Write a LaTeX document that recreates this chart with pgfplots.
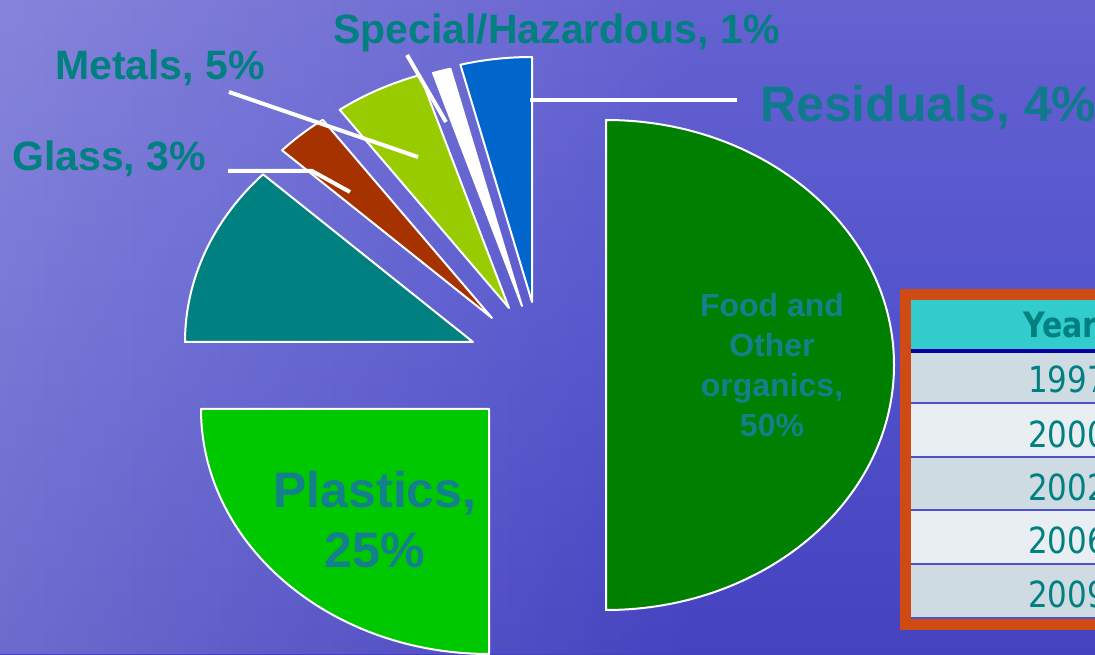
\documentclass[border=0pt]{standalone}
\usepackage{pgfplots}
\pgfplotsset{compat=1.18}
\usepackage{pgfplotstable}
\usepackage{fontspec}
\setmainfont{Liberation Sans}
\newfontfamily\tahoma[FakeStretch=0.86]{DejaVu Sans}
\usetikzlibrary{fadings}

\definecolor{resblue}{RGB}{0,102,204}
\definecolor{metgreen}{RGB}{153,204,0}
\definecolor{glassbrown}{RGB}{166,50,0}
\definecolor{paperteal}{RGB}{0,128,128}
\definecolor{plasgreen}{RGB}{0,200,0}
\definecolor{foodgreen}{RGB}{0,128,0}
\definecolor{labteal}{RGB}{0,128,128}
\definecolor{intext}{RGB}{20,128,140}
\definecolor{frame}{RGB}{208,74,20}
\definecolor{hdr}{RGB}{50,204,204}
\definecolor{hdrline}{RGB}{0,0,160}
\definecolor{rowa}{RGB}{207,219,226}
\definecolor{rowb}{RGB}{232,238,242}
\definecolor{rowline}{RGB}{80,80,200}
\definecolor{sea0}{RGB}{55,50,180}
\definecolor{sea1}{RGB}{85,85,205}
\definecolor{sea2}{RGB}{110,105,210}
\definecolor{sea3}{RGB}{165,160,225}
\definecolor{sea4}{RGB}{140,130,210}

\pgfdeclareverticalshading{sea}{100bp}{color(0bp)=(sea0); color(54bp)=(sea1); color(87bp)=(sea2); color(91.5bp)=(sea3); color(100bp)=(sea4)}
\tikzfading[name=fadeleft, left color=transparent!78, right color=transparent!100]

% pie slice drawn as a mark at its (exploded) apex; angles come from the table
\pgfdeclareplotmark{wedge}{%
  \pgfpathmoveto{\pgfpointorigin}%
  \pgfpathlineto{\pgfpoint{288pt*cos(\angA)}{245pt*sin(\angA)}}%
  \pgfpatharc{\angA}{\angB}{288pt and 245pt}%
  \pgfpathclose
  \pgfusepathqfillstroke
}

% pct, cumulative start (counter-clockwise from 12 o'clock), apex position in px
\pgfplotstableread{
name       pct cum  x    y    cls
Residuals   4   0   532  302  res
Special     1   4   522  306  spe
Metals      5   5   509  308  met
Glass       3  10   492  318  gla
Paper      12  13   473  342  pap
Plastics   25  25   489  409  pla
Food       50  50   606  365  foo
}\slices

\begin{document}
\begin{tikzpicture}
\begin{axis}[
  set layers,
  width=1095pt, height=654pt, scale only axis,
  xmin=0, xmax=1095, ymin=0, ymax=654, y dir=reverse,
  axis line style={draw=none}, ticks=none,
  axis background/.style={shade, shading=sea},
]
\fill[white, path fading=fadeleft] (axis cs:0,0) rectangle (axis cs:700,654);

\addplot[scatter, only marks, mark=wedge,
  scatter src=explicit symbolic,
  scatter/classes={
    res={fill=resblue}, spe={fill=white}, met={fill=metgreen},
    gla={fill=glassbrown}, pap={fill=paperteal}, pla={fill=plasgreen},
    foo={fill=foodgreen}},
  mark options={draw=white, line width=2pt, line join=round},
  visualization depends on={90+3.6*\thisrow{cum} \as \angA},
  visualization depends on={90+3.6*(\thisrow{cum}+\thisrow{pct}) \as \angB},
] table[x=x, y=y, meta=cls] {\slices};

\begin{pgfonlayer}{axis foreground}
% leader lines
\draw[white, line width=4pt] (axis cs:530,100) -- (axis cs:737,100);
\draw[white, line width=4pt] (axis cs:407,55) -- (axis cs:446,122);
\draw[white, line width=4pt] (axis cs:229,92) -- (axis cs:418,157);
\draw[white, line width=4pt] (axis cs:228,171) -- (axis cs:312,171) -- (axis cs:350,192);

% labels
\node[anchor=base west, inner sep=0, text=labteal, font=\bfseries\fontsize{41}{41}\selectfont] at (axis cs:333,44) {Special/Hazardous, 1\%};
\node[anchor=base west, inner sep=0, text=labteal, font=\bfseries\fontsize{41}{41}\selectfont] at (axis cs:55,80) {Metals, 5\%};
\node[anchor=base west, inner sep=0, text=labteal, font=\bfseries\fontsize{41}{41}\selectfont] at (axis cs:12,171) {Glass, 3\%};
\node[anchor=base west, inner sep=0, text=labteal, opacity=0.85, font=\bfseries\fontsize{50}{50}\selectfont] at (axis cs:760,122) {Residuals, 4\%};
\node[align=center, inner sep=0, text=intext, font=\bfseries\fontsize{32}{40}\selectfont] at (axis cs:772,365) {Food and\\Other\\organics,\\50\%};
\node[align=center, inner sep=0, text=intext, font=\bfseries\fontsize{50}{60}\selectfont] at (axis cs:375,520) {Plastics,\\25\%};
\end{pgfonlayer}

% table
\fill[frame] (axis cs:900,289) rectangle (axis cs:1110,630);
\fill[hdr] (axis cs:911,300) rectangle (axis cs:1110,349);
\fill[hdrline] (axis cs:911,349) rectangle (axis cs:1110,353);
\fill[rowa] (axis cs:911,353) rectangle (axis cs:1110,403);
\fill[rowb] (axis cs:911,403) rectangle (axis cs:1110,457);
\fill[rowa] (axis cs:911,457) rectangle (axis cs:1110,510);
\fill[rowb] (axis cs:911,510) rectangle (axis cs:1110,564);
\fill[rowa] (axis cs:911,564) rectangle (axis cs:1110,618);
\draw[rowline, line width=1.2pt] (axis cs:911,403) -- (axis cs:1110,403);
\draw[rowline, line width=1.2pt] (axis cs:911,457) -- (axis cs:1110,457);
\draw[rowline, line width=1.2pt] (axis cs:911,510) -- (axis cs:1110,510);
\draw[rowline, line width=1.2pt] (axis cs:911,564) -- (axis cs:1110,564);
\draw[rowline, line width=1.2pt] (axis cs:911,618) -- (axis cs:1110,618);
\node[anchor=base west, inner sep=0, text=labteal, font=\tahoma\bfseries\fontsize{35}{35}\selectfont] at (axis cs:1023,338) {Year};
\node[anchor=base west, inner sep=0, text=labteal, font=\tahoma\fontsize{36}{36}\selectfont] at (axis cs:1028,393) {1997};
\node[anchor=base west, inner sep=0, text=labteal, font=\tahoma\fontsize{36}{36}\selectfont] at (axis cs:1028,447) {2000};
\node[anchor=base west, inner sep=0, text=labteal, font=\tahoma\fontsize{36}{36}\selectfont] at (axis cs:1028,500) {2002};
\node[anchor=base west, inner sep=0, text=labteal, font=\tahoma\fontsize{36}{36}\selectfont] at (axis cs:1028,553) {2006};
\node[anchor=base west, inner sep=0, text=labteal, font=\tahoma\fontsize{36}{36}\selectfont] at (axis cs:1028,607) {2009};
\end{axis}
\pgfresetboundingbox
\useasboundingbox (current axis.south west) rectangle (current axis.north east);
\end{tikzpicture}
\end{document}
